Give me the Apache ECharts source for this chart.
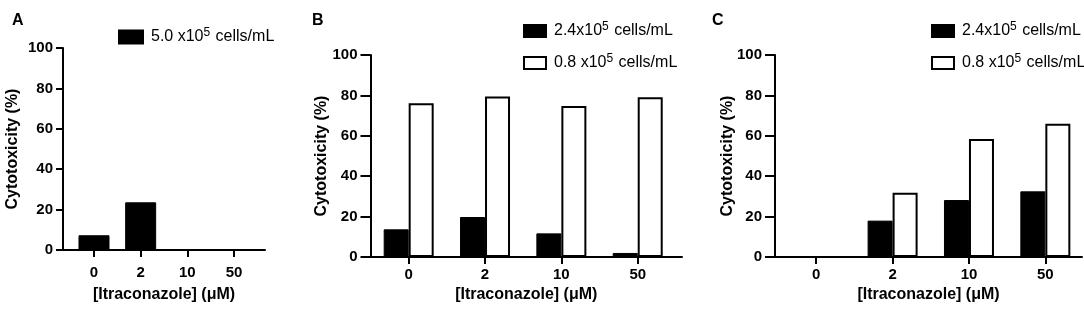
<!DOCTYPE html>
<html>
<head>
<meta charset="utf-8">
<script src="https://cdn.jsdelivr.net/npm/echarts@6/dist/echarts.min.js"></script>
<style>
html,body{margin:0;padding:0;background:#fff;}
#chart{width:1084px;height:314px;}
</style>
</head>
<body>
<div id="chart"></div>
<script>
// data
var cats = ['0', '2', '10', '50'];
var yTicks = [0, 20, 40, 60, 80, 100];
var nameA = '5.0 x10^5 cells/mL';
var nameHi = '2.4x10^5 cells/mL';
var nameLo = '0.8 x10^5 cells/mL';
var valsA = [7.3, 23.6, 0, 0];
var valsB_hi = [13.7, 19.8, 11.7, 2.0];
var valsB_lo = [76.1, 79.4, 74.8, 79.1];
var valsC_hi = [0, 18.0, 28.2, 32.5];
var valsC_lo = [0, 31.8, 58.4, 66.0];

var font = 'Arial, "Liberation Sans", Helvetica, sans-serif';
var catIdx = cats.map(function(c, i){ return i; });

function pairs(vals){
	return vals.map(function(v, i){ return [i, v]; });
}

function legendFmt(name){
	var p = name.split('^');
	var rest = p[1].substring(1);
	return '{t|' + p[0] + '}{s|' + p[1].charAt(0) + '}{t|' + rest + '}';
}
var legendRich = {
	t: {fontSize: 16, fontFamily: font, color: '#000'},
	s: {fontSize: 12, fontFamily: font, color: '#000', padding: [0, 1, 8, 0]}
};

function xAx(idx, min, max, lblMargin, nameGap){
	return {
		type: 'value', gridIndex: idx, min: min, max: max,
		name: '[Itraconazole] (\u03bcM)', nameLocation: 'middle', nameGap: nameGap,
		nameTextStyle: {fontSize: 16, fontWeight: 'bold', fontFamily: font, color: '#000'},
		axisLine: {onZero: false, lineStyle: {color: '#000', width: 2}},
		axisTick: {customValues: catIdx, length: 7, lineStyle: {color: '#000', width: 2}},
		axisLabel: {customValues: catIdx, margin: lblMargin, fontSize: 15, fontWeight: 'bold', fontFamily: font, color: '#000',
			formatter: function(v){ return cats[Math.round(v)]; }},
		splitLine: {show: false}
	};
}

function yAx(idx, nameGap, tickLen){
	return {
		type: 'value', gridIndex: idx, min: 0, max: 100, interval: 20,
		name: 'Cytotoxicity (%)', nameLocation: 'middle', nameGap: nameGap, nameMoveOverlap: false,
		nameTextStyle: {fontSize: 16, fontWeight: 'bold', fontFamily: font, color: '#000'},
		axisLine: {show: true, onZero: false, lineStyle: {color: '#000', width: 2}},
		axisTick: {show: true, length: tickLen, lineStyle: {color: '#000', width: 2}},
		axisLabel: {margin: tickLen + 3, fontSize: 15, fontWeight: 'bold', fontFamily: font, color: '#000',
			formatter: function(v){ return yTicks.indexOf(v) >= 0 ? String(v) : ''; }},
		splitLine: {show: false}
	};
}

function bar(name, idx, vals, filled, w){
	return {
		name: name, type: 'bar', xAxisIndex: idx, yAxisIndex: idx,
		data: pairs(vals), barWidth: w, barGap: '0%',
		itemStyle: filled ? {color: '#000', borderColor: '#000', borderWidth: 1}
			: {color: '#fff', borderColor: '#000', borderWidth: 2},
		emphasis: {disabled: true}
	};
}

function legendBox(left, top, names, iw, ih){
	return {
		left: left, top: top, orient: 'vertical', itemGap: 14,
		itemWidth: iw, itemHeight: ih, icon: 'rect', itemStyle: {borderWidth: 2},
		data: names, formatter: legendFmt, selectedMode: false,
		textStyle: {rich: legendRich, padding: [0, 0, 0, 3]}
	};
}

var chart = echarts.init(document.getElementById('chart'));
var option = {
	animation: false,
	backgroundColor: '#fff',
	title: [
		{text: 'A', left: 7, top: 8, textStyle: {fontSize: 16, fontWeight: 'bold', fontFamily: font, color: '#000'}},
		{text: 'B', left: 307, top: 8, textStyle: {fontSize: 16, fontWeight: 'bold', fontFamily: font, color: '#000'}},
		{text: 'C', left: 707, top: 8, textStyle: {fontSize: 16, fontWeight: 'bold', fontFamily: font, color: '#000'}}
	],
	legend: [
		legendBox(113, 22, [nameA], 24, 13),
		legendBox(518, 16, [nameHi, nameLo], 22, 12),
		legendBox(926, 16, [nameHi, nameLo], 22, 12)
	],
	grid: [
		{left: 63, top: 48, width: 202, height: 202},
		{left: 370.5, top: 55, width: 311.5, height: 202},
		{left: 775, top: 55, width: 307, height: 202}
	],
	xAxis: [
		xAx(0, -0.664, 3.664, 15, 37),
		xAx(1, -0.5, 3.58, 10, 30),
		xAx(2, -0.54, 3.48, 10, 30)
	],
	yAxis: [yAx(0, 42, 7), yAx(1, 41, 10), yAx(2, 39, 10)],
	series: [
		bar(nameA, 0, valsA, true, 31),
		bar(nameHi, 1, valsB_hi, true, 25),
		bar(nameLo, 1, valsB_lo, false, 25),
		bar(nameHi, 2, valsC_hi, true, 25),
		bar(nameLo, 2, valsC_lo, false, 25)
	]
};
chart.setOption(option);
</script>
</body>
</html>
